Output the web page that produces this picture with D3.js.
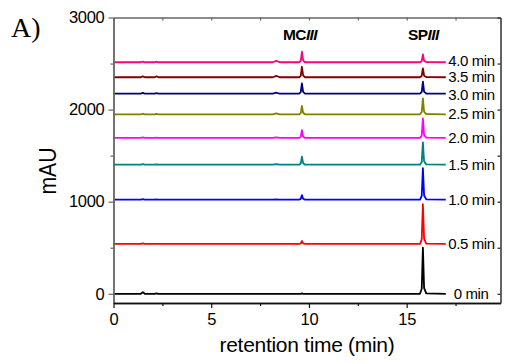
<!DOCTYPE html>
<html>
<head>
<meta charset="utf-8">
<script src="https://cdn.jsdelivr.net/npm/d3@7"></script>
<style>
  body { margin: 0; background: #fff; }
  svg { display: block; font-family: "Liberation Sans", Arial, sans-serif; }
</style>
</head>
<body>
<svg id="chart" width="505" height="364"></svg>
<script>
// retention time points where the traces change (min)
const times = [0, 1.4, 1.5, 1.6, 2.1, 2.2, 2.3, 8.15, 8.33, 8.5, 9.5, 9.58, 9.64, 9.7, 9.8, 15.68, 15.77, 15.83, 15.89, 16.0, 17.0];

// irradiation times (labels) and the vertical offset of each trace (mAU)
const labels = ["0 min", "0.5 min", "1.0 min", "1.5 min", "2.0 min", "2.5 min", "3.0 min", "3.5 min", "4.0 min"];
const offsets = [0, 541, 1022, 1402, 1692, 1949, 2173, 2351, 2514];
const colors = ["#000000", "#ff0000", "#0000ff", "#008080", "#ff00ff", "#808000", "#000080", "#800000", "#ff0080"];

// signal above each baseline (mAU), one value per entry of times
const sig0  = [0, 0, 18, 0, 0, 4, 0, 0, 0, 0, 0, 0, 4, 0, 0, 0, 55, 500, 65, 4, 0];
const sig05 = [0, 0, 6, 0, 0, 2, 0, 0, 2, 0, 0, 5, 32, 7, 0, 0, 50, 432, 58, 4, 0];
const sig10 = [0, 0, 5, 0, 0, 2, 0, 0, 3, 0, 0, 8, 50, 10, 0, 0, 42, 342, 48, 4, 0];
const sig15 = [0, 0, 6, 0, 0, 3, 0, 0, 5, 0, 0, 12, 86, 16, 0, 0, 30, 242, 36, 3, 0];
const sig20 = [0, 0, 6, 0, 0, 4, 0, 0, 6, 0, 0, 12, 86, 16, 0, 0, 28, 212, 32, 3, 0];
const sig25 = [0, 0, 6, 0, 0, 4, 0, 0, 10, 0, 0, 13, 90, 17, 0, 0, 24, 173, 28, 3, 0];
const sig30 = [0, 0, 8, 0, 0, 6, 0, 0, 10, 0, 0, 16, 112, 20, 0, 0, 18, 130, 22, 2, 0];
const sig35 = [0, 0, 10, 0, 0, 10, 0, 0, 15, 0, 0, 16, 114, 20, 0, 0, 14, 97, 17, 2, 0];
const sig40 = [0, 0, 6, 0, 0, 6, 0, 0, 15, 0, 0, 16, 114, 20, 0, 0, 12, 86, 15, 2, 0];
const signals = [sig0, sig05, sig10, sig15, sig20, sig25, sig30, sig35, sig40];

const yMajor = [0, 1000, 2000, 3000];
const yMinor = [500, 1500, 2500];
const xMajor = [0, 5, 10, 15];
const xMinor = [2.5, 7.5, 12.5, 17.5];

const svg = d3.select("#chart");
const frame = {left: 113.5, right: 500.5, top: 17.5, bottom: 303};

const x = d3.scaleLinear().domain([0, 19.8]).range([frame.left, frame.right]);
const y = d3.scaleLinear().domain([-100, 3000]).range([frame.bottom, frame.top]);

// traces
const line = d3.line()
  .x(d => x(d[0]))
  .y(d => y(d[1]));

// the top three labels sit close together, spread them a little
function labelShift(i) {
  if (labels[i] === "3.0 min") return 1.5;
  if (labels[i] === "4.0 min") return -1.2;
  return 0;
}

const traces = svg.append("g").attr("class", "traces");
signals.forEach((s, i) => {
  const pts = times.map((t, j) => [t, offsets[i] + s[j]]);
  traces.append("path")
    .attr("d", line(pts))
    .attr("fill", "none")
    .attr("stroke", colors[i])
    .attr("stroke-width", 1.8)
    .attr("stroke-linejoin", "round");
  traces.append("text")
    .attr("x", x(17.0) + (i === 0 ? 8 : 2.5))
    .attr("y", y(offsets[i]) + 5.2 + labelShift(i))
    .attr("font-size", 15)
    .attr("letter-spacing", -0.4)
    .attr("fill", "#000")
    .text(labels[i]);
});

// axes
function styleAxis(g, color) {
  g.select(".domain").attr("stroke", color).attr("stroke-width", 1.4);
  g.selectAll(".tick line").attr("stroke", color).attr("stroke-width", 1.2);
  g.selectAll(".tick text").attr("font-size", 16.5).attr("fill", "#000")
    .attr("letter-spacing", -0.3)
    .attr("font-family", "'Liberation Sans', Arial, sans-serif");
}

svg.append("g")
  .attr("transform", `translate(${frame.left},0)`)
  .call(d3.axisLeft(y).tickValues(yMajor).tickSize(5).tickSizeOuter(0).tickPadding(4).tickFormat(d3.format("d")))
  .call(g => styleAxis(g, "#666"));
svg.append("g")
  .attr("transform", `translate(${frame.left},0)`)
  .call(d3.axisLeft(y).tickValues(yMinor).tickSize(3).tickSizeOuter(0).tickFormat(""))
  .call(g => styleAxis(g, "#666"));

svg.append("g")
  .attr("transform", `translate(0,${frame.bottom})`)
  .call(d3.axisBottom(x).tickValues(xMajor).tickSize(5).tickSizeOuter(0).tickPadding(5).tickFormat(d3.format("d")))
  .call(g => styleAxis(g, "#111"));
svg.append("g")
  .attr("transform", `translate(0,${frame.bottom})`)
  .call(d3.axisBottom(x).tickValues(xMinor).tickSize(3).tickSizeOuter(0).tickFormat(""))
  .call(g => styleAxis(g, "#111"));

svg.append("g")
  .attr("transform", `translate(0,${frame.top})`)
  .call(d3.axisTop(x).tickValues(xMajor.concat(xMinor)).tickSize(-3).tickSizeOuter(0).tickFormat(""))
  .call(g => styleAxis(g, "#666"));

svg.append("g")
  .attr("transform", `translate(${frame.right},0)`)
  .call(d3.axisRight(y).tickValues(yMajor.concat(yMinor)).tickSize(-3).tickSizeOuter(0).tickFormat(""))
  .call(g => styleAxis(g, "#222"));

// axis titles
svg.append("text")
  .attr("x", (frame.left + frame.right) / 2)
  .attr("y", 352)
  .attr("text-anchor", "middle")
  .attr("font-size", 21)
  .attr("letter-spacing", -0.3)
  .text("retention time (min)");

svg.append("text")
  .attr("transform", "translate(56,171) rotate(-90)")
  .attr("text-anchor", "middle")
  .attr("font-size", 24)
  .attr("textLength", 47)
  .attr("lengthAdjust", "spacingAndGlyphs")
  .text("mAU");

// peak labels
const mc = svg.append("text")
  .attr("x", 283)
  .attr("y", 40)
  .attr("font-size", 15.5)
  .attr("font-weight", "bold")
  .attr("letter-spacing", -0.6);
mc.append("tspan").text("MC");
mc.append("tspan").attr("font-style", "italic").text("III");

const sp = svg.append("text")
  .attr("x", 408)
  .attr("y", 40)
  .attr("font-size", 15.5)
  .attr("font-weight", "bold")
  .attr("letter-spacing", -0.6);
sp.append("tspan").text("SP");
sp.append("tspan").attr("font-style", "italic").text("III");

// panel letter
svg.append("text")
  .attr("x", 11)
  .attr("y", 37)
  .attr("font-family", "'Liberation Serif', 'Times New Roman', serif")
  .attr("font-size", 28)
  .attr("fill", "#000")
  .text("A)");
</script>
</body>
</html>
